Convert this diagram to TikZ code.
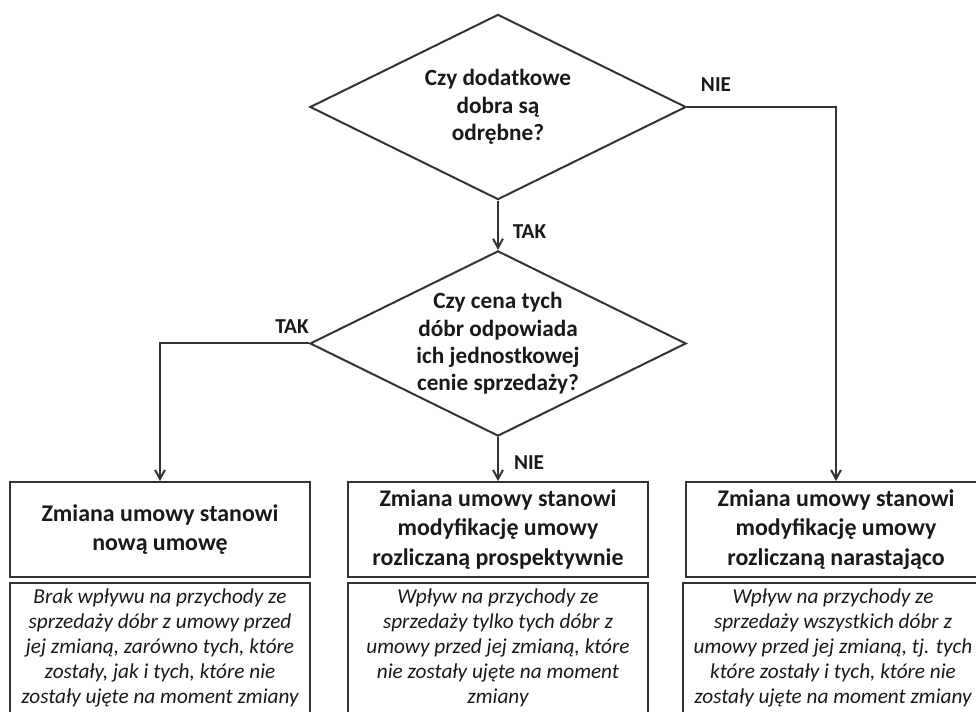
\documentclass[tikz,border=0pt]{standalone}
\usepackage{fontspec}
\setmainfont{Carlito}
\usetikzlibrary{arrows.meta,positioning,shapes.geometric}

\begin{document}
\begin{tikzpicture}[
  x=1cm, y=1cm,
  line width=1.5pt, draw=black!80,
  decision/.style={draw, diamond, minimum width=9.95cm, minimum height=4.9cm, inner sep=0pt},
  question/.style={align=center, font=\fontsize{17.5}{20.6}\selectfont\bfseries, text=black!90},
  result/.style={draw, rectangle, minimum width=7.94cm, minimum height=2.51cm, inner sep=1pt, align=center, font=\fontsize{18}{22.5}\selectfont\bfseries, text=black!90},
  effect/.style={draw, rectangle, minimum width=7.94cm, minimum height=3.44cm, inner sep=1pt, align=center, font=\fontsize{16}{18.8}\selectfont\itshape, text=black!90},
  answer/.style={font=\fontsize{16}{19}\selectfont\bfseries, text=black!90},
  arrow/.style={-{Straight Barb[length=2.4mm,width=2.6mm]}}
]
\useasboundingbox (0,0) rectangle (25.823,-18.812);
\clip (0,0) rectangle (25.823,-18.812);

% questions
\node[decision] (q1) at (13.176, -2.831) {};
\node[question] (t1) at (q1) {Czy dodatkowe\\dobra są\\odrębne?};
\node[decision] (q2) at (13.176, -9.088) {};
\node[question] (t2) at (q2) {Czy cena tych\\dóbr odpowiada\\ich jednostkowej\\cenie sprzedaży?};

% results
\node[result] (r1) at (4.233, -14.010) {Zmiana umowy stanowi\\nową umowę};
\node[result] (r2) at (13.176, -14.010) {Zmiana umowy stanowi\\modyfikację umowy\\rozliczaną prospektywnie};
\node[result] (r3) at (22.119, -14.010) {Zmiana umowy stanowi\\modyfikację umowy\\rozliczaną narastająco};
\node[effect] (e1) at (4.233, -17.145) {Brak wpływu na przychody ze\\sprzedaży dóbr z umowy przed\\jej zmianą, zarówno tych, które\\zostały, jak i tych, które nie\\zostały ujęte na moment zmiany};
\node[effect] (e2) at (13.176, -17.145) {Wpływ na przychody ze\\sprzedaży tylko tych dóbr z\\umowy przed jej zmianą, które\\nie zostały ujęte na moment\\zmiany};
\node[effect] (e3) at (22.040, -17.145) {Wpływ na przychody ze\\sprzedaży wszystkich dóbr z\\umowy przed jej zmianą, tj. tych\\które zostały i tych, które nie\\zostały ujęte na moment zmiany};

% answers
\node[answer] (no1) at (18.944, -2.249) {NIE};
\node[answer] (yes1) at (14.010, -6.138) {TAK};
\node[answer] (yes2) at (7.725, -8.650) {TAK};
\node[answer] (no2) at (13.997, -12.250) {NIE};

\draw[arrow] (q1.south) -- (q2.north);
\draw[arrow] (q1.east) -| (r3.north);
\draw[arrow] (q2.west) -| (r1.north);
\draw[arrow] (q2.south) -- (r2.north);
\end{tikzpicture}
\end{document}
